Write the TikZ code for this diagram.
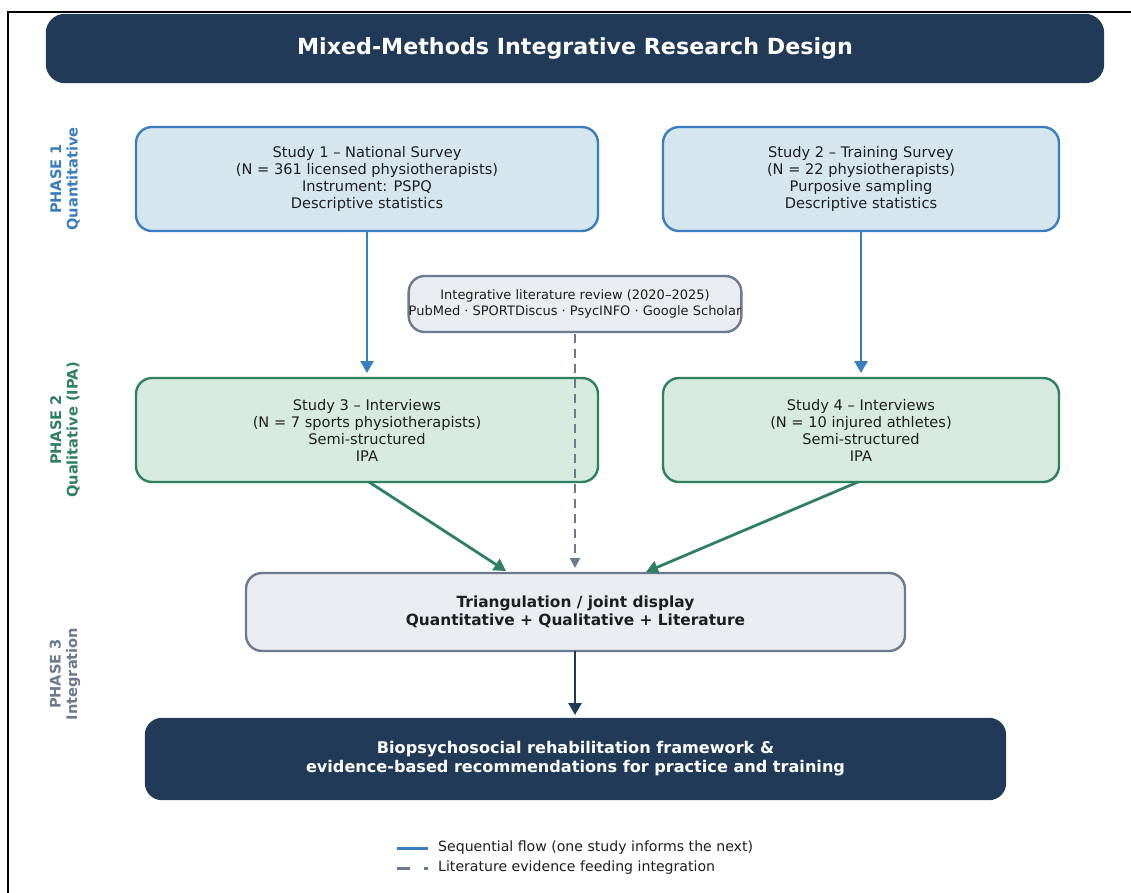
\documentclass[tikz,border=0pt]{standalone}
\usepackage{fontspec}
\setmainfont{DejaVu Sans}
\usetikzlibrary{arrows.meta}
\definecolor{navy}{HTML}{213A57}
\definecolor{qblue}{HTML}{3A7EBF}
\definecolor{qbluefill}{HTML}{D5E6EF}
\definecolor{qgreen}{HTML}{2E8060}
\definecolor{qgreenfill}{HTML}{D6EADD}
\definecolor{lgray}{HTML}{6B7A8F}
\definecolor{lgrayfill}{HTML}{EAEDF0}
\definecolor{txt}{HTML}{1E1E1E}
\tikzset{
  x=1pt, y=-1pt,
  box/.style={rounded corners=16pt, line width=2.4pt, align=center, text=txt, inner sep=0pt,
    font=\fontsize{14.6}{17}\selectfont},
  quantbox/.style={box, draw=qblue, fill=qbluefill},
  qualbox/.style={box, draw=qgreen, fill=qgreenfill},
  litbox/.style={box, draw=lgray, fill=lgrayfill},
  darkbox/.style={box, fill=navy, draw=navy, text=white, font=\bfseries\fontsize{16.1}{19}\selectfont},
  phase/.style={rotate=90, align=center, font=\bfseries\fontsize{14.6}{16.5}\selectfont},
  arr/.style={line width=2.8pt, -{Triangle[length=12pt,width=13pt]}},
  dasharr/.style={line width=2.8pt, draw=lgray, dash pattern=on 9pt off 6pt, -{Triangle[length=10pt,width=10pt]}},
}
\begin{document}
\begin{tikzpicture}
\useasboundingbox (0,0) rectangle (1131,893);
\draw[line width=1.6pt] (8,893) -- (8,12) -- (1131,12);

\node[darkbox, minimum width=1056pt, minimum height=67pt, rounded corners=18pt,
  font=\bfseries\fontsize{22.2}{26}\selectfont] (title) at (575,48.5) {Mixed-Methods Integrative Research Design};

\node[phase, text=qblue] (p1) at (65,179) {PHASE 1\\Quantitative};
\node[phase, text=qgreen] (p2) at (65,430) {PHASE 2\\Qualitative (IPA)};
\node[phase, text=lgray] (p3) at (65,674) {PHASE 3\\Integration};

\node[quantbox, minimum width=462pt, minimum height=104pt] (s1) at (367,179)
  {Study 1 -- National Survey\\(N = 361 licensed physiotherapists)\\Instrument: PSPQ\\Descriptive statistics};
\node[quantbox, minimum width=396pt, minimum height=104pt] (s2) at (861,179)
  {Study 2 -- Training Survey\\(N = 22 physiotherapists)\\Purposive sampling\\Descriptive statistics};

\node[litbox, minimum width=330pt, minimum height=56pt, font=\fontsize{13}{15.5}\selectfont] (lit) at (575,304)
  {Integrative literature review (2020--2025)\\PubMed · SPORTDiscus · PsycINFO · Google Scholar};

\node[qualbox, minimum width=462pt, minimum height=104pt] (s3) at (367,430)
  {Study 3 -- Interviews\\(N = 7 sports physiotherapists)\\Semi-structured\\IPA};
\node[qualbox, minimum width=396pt, minimum height=104pt] (s4) at (861,430)
  {Study 4 -- Interviews\\(N = 10 injured athletes)\\Semi-structured\\IPA};

\node[litbox, minimum width=659pt, minimum height=78pt, font=\bfseries\fontsize{15.4}{18}\selectfont] (tri) at (575.5,612)
  {Triangulation / joint display\\Quantitative + Qualitative + Literature};

\node[darkbox, minimum width=859pt, minimum height=80pt] (fin) at (575.5,759)
  {Biopsychosocial rehabilitation framework \&\\evidence-based recommendations for practice and training};

\coordinate (s1b) at (367,231);
\coordinate (s3t) at (367,373);
\coordinate (s2b) at (861,231);
\coordinate (s4t) at (861,373);
\draw[arr, qblue] (s1.south -| s1b) -- (s3t);
\draw[arr, qblue] (s2.south -| s2b) -- (s4t);

\coordinate (litb) at (575,334);
\coordinate (tritop) at (575,568);
\draw[dasharr] (litb) -- (tritop);

\coordinate (s3b) at (369,482);
\coordinate (s3end) at (506,571);
\coordinate (s4b) at (858,482);
\coordinate (s4end) at (646,572);
\draw[arr, qgreen] (s3b) -- (s3end);
\draw[arr, qgreen] (s4b) -- (s4end);

\coordinate (trib) at (575,651);
\coordinate (fintop) at (575,715);
\draw[arr, navy] (trib) -- (fintop);

% legend
\coordinate (l1a) at (397,848); \coordinate (l1b) at (428,848);
\coordinate (l2a) at (397,868); \coordinate (l2b) at (428,868);
\draw[line width=3pt, qblue] (l1a) -- (l1b);
\draw[line width=3pt, lgray, dash pattern=on 13pt off 14pt] (l2a) -- (l2b);
\node[anchor=west, text=txt, font=\fontsize{14.1}{16}\selectfont, inner sep=0pt] (leg1) at (438,848) {Sequential flow (one study informs the next)};
\node[anchor=west, text=txt, font=\fontsize{14.1}{16}\selectfont, inner sep=0pt] (leg2) at (438,868) {Literature evidence feeding integration};
\end{tikzpicture}
\end{document}
